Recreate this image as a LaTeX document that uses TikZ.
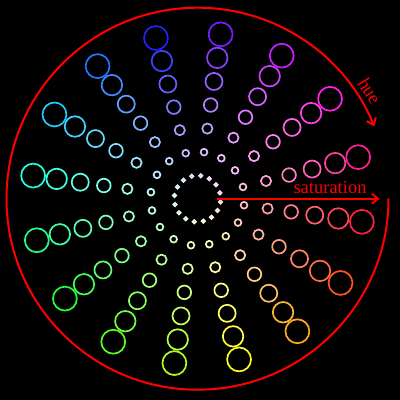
\documentclass[tikz,border=0pt]{standalone}
\usepackage{fontspec}
\setmainfont{Liberation Serif}
\usetikzlibrary{arrows.meta,calc}
\begin{document}
\begin{tikzpicture}[x=1pt,y=1pt,
  ring/.style={line width=1.7pt},
  redline/.style={red,line width=2pt},
  tip/.style={-{Straight Barb[length=6pt,width=10pt]}},
  lbl/.style={text=red,font=\fontsize{18.5}{20}\selectfont,inner sep=0pt}]
\fill[black] (0,0) rectangle (400,400);
\useasboundingbox (0,0) rectangle (400,400);
\coordinate (ctr) at (197.5,201.3);
\foreach \n in {0,...,15}{
  \pgfmathsetmacro{\ang}{14.5+22.5*\n}
  \pgfmathsetmacro{\hue}{mod(329.5-22.5*\n+720,360)}
  \foreach \k in {0,...,6}{
    \pgfmathsetmacro{\d}{23.2+23.8*\k}
    \pgfmathsetmacro{\sat}{\d/190}
    \pgfmathsetmacro{\rr}{0.072*\d}
    \definecolor{cc}{Hsb}{\hue,\sat,1}
    \draw[ring,cc] ($(ctr)+(\ang:\d)$) circle[radius=\rr];
  }
}
\coordinate (arcstart) at ($(ctr)+(0:191)$);
\draw[redline,tip] (arcstart) arc[start angle=0,end angle=-337.7,radius=191];
\coordinate (satstart) at ($(ctr)+(19.2,0)$);
\coordinate (satend) at ($(ctr)+(182,0)$);
\draw[redline,tip] (satstart) -- (satend);
\node[lbl,anchor=base east] (satlbl) at (366.7,206) {saturation};
\node[lbl,rotate=-58] (huelbl) at ($(ctr)+(32:203)$) {hue};
\end{tikzpicture}
\end{document}
